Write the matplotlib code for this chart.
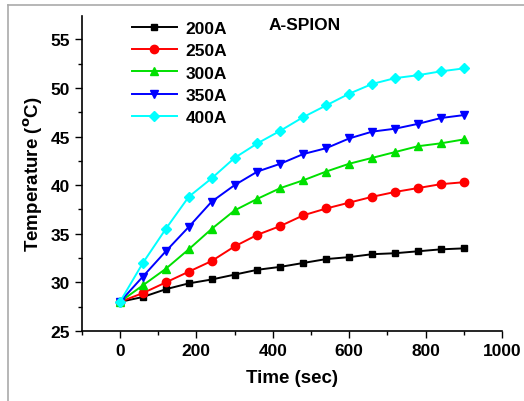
import numpy as np
import matplotlib
matplotlib.use("Agg")
import matplotlib.pyplot as plt
from matplotlib.lines import Line2D
from matplotlib.ticker import MultipleLocator

# time points (sec)
time = [0, 60, 120, 180, 240, 300, 360, 420, 480, 540, 600, 660, 720, 780, 840, 900]
# temperature readings for each current
t200 = [28.0, 28.5, 29.3, 29.9, 30.3, 30.8, 31.3, 31.6, 32.0, 32.4, 32.6, 32.9, 33.0, 33.2, 33.4, 33.5]
t250 = [28.0, 28.9, 30.0, 31.1, 32.2, 33.7, 34.9, 35.8, 36.9, 37.6, 38.2, 38.8, 39.3, 39.7, 40.1, 40.3]
t300 = [28.0, 29.7, 31.4, 33.4, 35.5, 37.4, 38.6, 39.7, 40.5, 41.4, 42.2, 42.8, 43.4, 44.0, 44.3, 44.7]
t350 = [28.0, 30.6, 33.2, 35.7, 38.3, 40.0, 41.4, 42.2, 43.2, 43.8, 44.8, 45.5, 45.8, 46.3, 46.9, 47.2]
t400 = [28.0, 32.0, 35.5, 38.8, 40.7, 42.8, 44.3, 45.6, 47.0, 48.2, 49.4, 50.4, 51.0, 51.3, 51.7, 52.0]
labels = ["200A", "250A", "300A", "350A", "400A"]

plt.rcParams['font.family'] = ['Liberation Sans', 'DejaVu Sans']
plt.rcParams['font.weight'] = 'bold'

fig = plt.figure(figsize=(5.24, 4.02), dpi=100)
ax = fig.add_axes([0.156, 0.174, 0.802, 0.784])

series = [t200, t250, t300, t350, t400]
colors = ['black', 'red', '#00e000', 'blue', 'cyan']
markers = ['s', 'o', '^', 'v', 'D']
sizes = [5, 6, 6, 6, 5]
for s, c, m, ms, lab in zip(series, colors, markers, sizes, labels):
    ax.plot(time, s, color=c, marker=m, markersize=ms, lw=1.4, label=lab)

ax.set_xlim(-100, 1000)
ax.set_ylim(25, 57.4)
ax.xaxis.set_major_locator(MultipleLocator(200))
ax.xaxis.set_minor_locator(MultipleLocator(100))
ax.yaxis.set_major_locator(MultipleLocator(5))
ax.yaxis.set_minor_locator(MultipleLocator(2.5))
ax.tick_params(which='major', direction='out', length=5, width=1, labelsize=12.5)
ax.tick_params(which='minor', direction='out', length=3, width=1)
for t in ax.get_xticklabels() + ax.get_yticklabels():
    t.set_fontweight('bold')
for sp in ['top', 'right']:
    ax.spines[sp].set_visible(False)
for sp in ['left', 'bottom']:
    ax.spines[sp].set_linewidth(1.2)

ax.set_xlabel("Time (sec)", fontsize=13.5, fontweight='bold', labelpad=8)
ax.set_ylabel("Temperature ($^{\\rm o}$C)", fontsize=13.5, fontweight='bold', labelpad=4)
ax.text(0.53, 0.998, "A-SPION", transform=ax.transAxes, fontsize=12.5,
        fontweight='bold', ha='center', va='top')

leg = ax.legend(loc='upper left', bbox_to_anchor=(0.082, 1.035), frameon=False,
                prop={'size': 12.5, 'weight': 'bold'}, handlelength=2.6,
                labelspacing=0.42, handletextpad=0.5)

# outer grey frame
fig.add_artist(Line2D([8/524, 1], [1 - 6/402, 1 - 6/402], color='#aaaaaa', lw=1.2))
fig.add_artist(Line2D([8/524, 8/524], [0, 1 - 6/402], color='#aaaaaa', lw=1.2))

fig.savefig("out.png", dpi=100)
